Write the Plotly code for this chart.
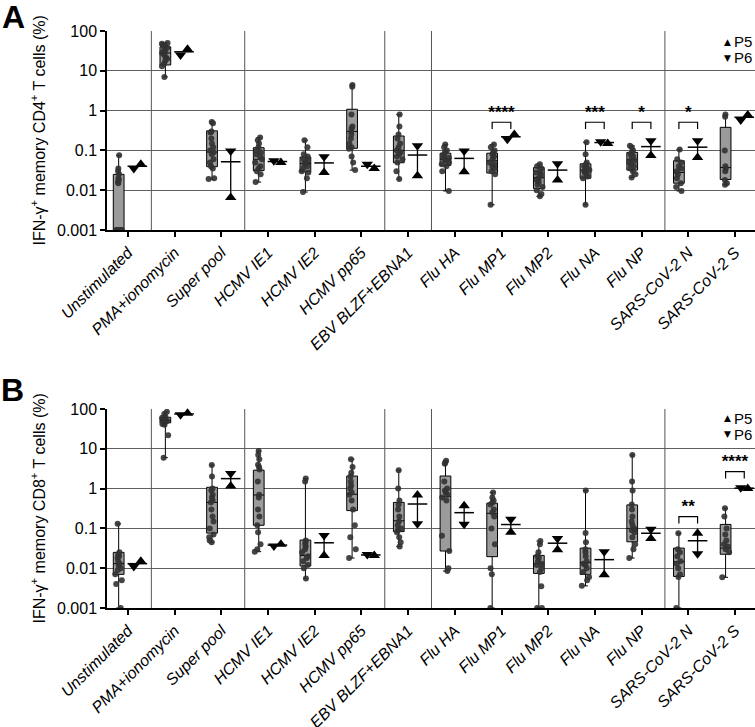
import math
import plotly.graph_objects as go

categories = ["Unstimulated", "PMA+ionomycin", "Super pool", "HCMV IE1", "HCMV IE2",
              "HCMV pp65", "EBV BLZF+EBNA1", "Flu HA", "Flu MP1", "Flu MP2", "Flu NA",
              "Flu NP", "SARS-CoV-2 N", "SARS-CoV-2 S"]

# ---------------- Panel A : CD4 ----------------
cd4_q1 = [0.001, 14, 0.039, 0.031, 0.029, 0.113, 0.049, 0.042, 0.027, 0.011, 0.02, 0.032, 0.015, 0.0186]
cd4_median = [0.001, 28, 0.091, 0.06, 0.047, 0.3, 0.1, 0.06, 0.055, 0.021, 0.032, 0.058, 0.028, 0.037]
cd4_q3 = [0.025, 40, 0.31, 0.117, 0.068, 1.08, 0.23, 0.085, 0.085, 0.037, 0.046, 0.089, 0.055, 0.38]
cd4_points = [
    [0.075, 0.035, 0.03, 0.025, 0.02, 0.018, 0.016, 0.015, 0.001, 0.001, 0.001, 0.001, 0.001, 0.001, 0.001, 0.001],
    [50, 48, 45, 42, 38, 35, 30, 28, 25, 22, 20, 18, 15, 13, 7],
    [0.52, 0.48, 0.3, 0.28, 0.2, 0.15, 0.12, 0.1, 0.09, 0.08, 0.06, 0.05, 0.04, 0.035, 0.02, 0.019],
    [0.21, 0.18, 0.15, 0.12, 0.1, 0.09, 0.08, 0.07, 0.06, 0.05, 0.04, 0.035, 0.03, 0.025, 0.016],
    [0.18, 0.12, 0.08, 0.07, 0.06, 0.055, 0.05, 0.045, 0.04, 0.035, 0.03, 0.028, 0.02, 0.009],
    [4.4, 4.0, 0.8, 0.4, 0.36, 0.3, 0.25, 0.2, 0.15, 0.12, 0.11, 0.07, 0.05, 0.032],
    [0.8, 0.4, 0.25, 0.2, 0.15, 0.12, 0.1, 0.09, 0.08, 0.07, 0.06, 0.05, 0.03, 0.019],
    [0.14, 0.12, 0.1, 0.09, 0.08, 0.07, 0.065, 0.06, 0.055, 0.05, 0.045, 0.04, 0.03, 0.0096],
    [0.14, 0.12, 0.1, 0.09, 0.08, 0.07, 0.06, 0.05, 0.045, 0.04, 0.035, 0.03, 0.025, 0.0043],
    [0.045, 0.04, 0.035, 0.03, 0.028, 0.025, 0.022, 0.02, 0.018, 0.016, 0.014, 0.012, 0.01, 0.008, 0.007],
    [0.16, 0.08, 0.05, 0.045, 0.04, 0.038, 0.035, 0.032, 0.03, 0.028, 0.025, 0.022, 0.02, 0.0043],
    [0.13, 0.12, 0.1, 0.09, 0.08, 0.07, 0.06, 0.055, 0.05, 0.045, 0.04, 0.035, 0.03, 0.025, 0.021],
    [0.105, 0.06, 0.05, 0.04, 0.035, 0.03, 0.025, 0.02, 0.015, 0.012, 0.0096],
    [0.8, 0.7, 0.1, 0.04, 0.035, 0.03, 0.018, 0.015, 0.0138],
]
cd4_p5 = [0.045, 35, 0.0066, 0.05, 0.028, 0.035, 0.023, 0.029, 0.25, 0.018, 0.15, 0.074, 0.066, 0.78]
cd4_p6 = [0.035, 25, 0.097, 0.055, 0.069, 0.045, 0.13, 0.097, 0.19, 0.046, 0.165, 0.175, 0.175, 0.58]
cd4_sig_idx = [8, 10, 11, 12]
cd4_sig_text = ["****", "***", "*", "*"]
cd4_sig_y = [0.51, 0.51, 0.51, 0.51]

# ---------------- Panel B : CD8 ----------------
cd8_q1 = [0.007, 45, 0.076, 0.12, 0.0114, 0.28, 0.083, 0.027, 0.0195, 0.0074, 0.007, 0.046, 0.0062, 0.0224]
cd8_median = [0.013, 52, 0.45, 0.69, 0.021, 0.72, 0.155, 0.63, 0.24, 0.013, 0.0138, 0.1, 0.0146, 0.032]
cd8_q3 = [0.025, 62, 1.08, 2.9, 0.051, 2.07, 0.45, 2.07, 0.43, 0.021, 0.032, 0.39, 0.032, 0.126]
cd8_points = [
    [0.13, 0.025, 0.022, 0.02, 0.018, 0.015, 0.013, 0.012, 0.01, 0.009, 0.007, 0.005, 0.004, 0.001],
    [85, 75, 65, 60, 55, 52, 50, 48, 45, 42, 40, 22, 6],
    [3.9, 2.0, 1.0, 0.9, 0.7, 0.6, 0.5, 0.45, 0.3, 0.2, 0.15, 0.1, 0.07, 0.06, 0.05, 0.045],
    [8.8, 7, 5.5, 4, 3.5, 3, 1.5, 0.7, 0.6, 0.3, 0.2, 0.12, 0.08, 0.04, 0.03, 0.026],
    [1.8, 1.5, 0.05, 0.045, 0.04, 0.035, 0.03, 0.025, 0.02, 0.018, 0.015, 0.012, 0.01, 0.0055],
    [5.5, 3.5, 2.5, 2, 1.5, 1.2, 1, 0.8, 0.7, 0.5, 0.3, 0.12, 0.06, 0.03, 0.018],
    [2.9, 1.0, 0.5, 0.4, 0.3, 0.2, 0.15, 0.12, 0.1, 0.09, 0.08, 0.06, 0.045, 0.035],
    [5.0, 4.5, 4.2, 1.5, 1.0, 0.9, 0.8, 0.7, 0.6, 0.5, 0.065, 0.027, 0.01, 0.0085],
    [0.8, 0.6, 0.5, 0.45, 0.4, 0.3, 0.25, 0.2, 0.1, 0.04, 0.01, 0.007, 0.001],
    [0.048, 0.04, 0.025, 0.02, 0.018, 0.015, 0.013, 0.012, 0.01, 0.008, 0.0035, 0.001, 0.001],
    [0.9, 0.077, 0.045, 0.03, 0.025, 0.02, 0.015, 0.013, 0.012, 0.01, 0.008, 0.006, 0.005, 0.0036],
    [7, 1.5, 0.9, 0.4, 0.3, 0.2, 0.15, 0.12, 0.1, 0.09, 0.08, 0.06, 0.04, 0.03, 0.018],
    [0.075, 0.03, 0.025, 0.02, 0.015, 0.013, 0.01, 0.007, 0.006, 0.001],
    [0.32, 0.2, 0.1, 0.07, 0.05, 0.04, 0.035, 0.03, 0.025, 0.0059],
]
cd8_p5 = [0.015, 78, 1.16, 0.04, 0.021, 0.021, 0.69, 0.37, 0.08, 0.029, 0.0068, 0.056, 0.075, 1.0]
cd8_p6 = [0.011, 72, 2.4, 0.036, 0.066, 0.022, 0.13, 0.127, 0.17, 0.056, 0.026, 0.095, 0.023, 1.05]
cd8_sig_idx = [12, 13]
cd8_sig_text = ["**", "****"]
cd8_sig_y = [0.197, 2.66]

y_tickvals = [0.001, 0.01, 0.1, 1, 10, 100]
y_ticktext = ["0.001", "0.01", "0.1", "1", "10", "100"]
separators = [0.5, 2.5, 5.5, 6.5, 11.5]

W, H = 755, 727
FONT = "Liberation Sans, Arial, sans-serif"
fig = go.Figure()


def add_panel(xa, ya, q1, med, q3, pts, p5, p6, sig_idx, sig_txt, sig_y):
    n = len(categories)
    bx = [i - 0.2 for i in range(n)]
    lo = [min(p) for p in pts]
    hi = [max(p) for p in pts]
    fig.add_trace(go.Box(x=bx, q1=q1, median=med, q3=q3, lowerfence=lo, upperfence=hi,
                         xaxis=xa, yaxis=ya, width=0.23, fillcolor="#9b9b9b",
                         line=dict(color="black", width=1), whiskerwidth=0.45,
                         boxpoints=False, showlegend=False, hoverinfo="skip"))
    px_, py_ = [], []
    for i, p in enumerate(pts):
        px_ += [i - 0.2] * len(p)
        py_ += p
    fig.add_trace(go.Box(x=px_, y=py_, xaxis=xa, yaxis=ya, width=0.23, boxpoints="all",
                         jitter=0.75, pointpos=0, fillcolor="rgba(0,0,0,0)",
                         line=dict(color="rgba(0,0,0,0)", width=0),
                         marker=dict(color="rgba(50,50,50,0.9)", size=6),
                         showlegend=False, hoverinfo="skip"))
    # P5 / P6 : mean with range
    x5, x6, lx, ly, mx, my = [], [], [], [], [], []
    for i in range(n):
        c = i + 0.2
        close = abs(math.log10(p5[i]) - math.log10(p6[i])) < 0.2
        d = 0.075 if close else 0.0
        x5.append(c + d)
        x6.append(c - d)
        if not close:
            lx += [c, c, None]
            ly += [p5[i], p6[i], None]
        mx.append(c)
        my.append((p5[i] + p6[i]) / 2)
    fig.add_trace(go.Scatter(x=lx, y=ly, mode="lines", xaxis=xa, yaxis=ya,
                             line=dict(color="black", width=1.3), showlegend=False, hoverinfo="skip"))
    fig.add_trace(go.Scatter(x=mx, y=my, mode="markers", xaxis=xa, yaxis=ya,
                             marker=dict(symbol="line-ew", size=14, line=dict(color="black", width=1.5)),
                             showlegend=False, hoverinfo="skip"))
    fig.add_trace(go.Scatter(x=x6, y=p6, mode="markers", xaxis=xa, yaxis=ya, cliponaxis=False,
                             marker=dict(symbol="triangle-down", size=10, color="black"),
                             showlegend=False, hoverinfo="skip"))
    fig.add_trace(go.Scatter(x=x5, y=p5, mode="markers", xaxis=xa, yaxis=ya, cliponaxis=False,
                             marker=dict(symbol="triangle-up", size=10, color="black"),
                             showlegend=False, hoverinfo="skip"))
    # significance brackets
    bxs, bys = [], []
    for k, i in enumerate(sig_idx):
        top = sig_y[k]
        leg = top / 10 ** 0.17
        bxs += [i - 0.2, i - 0.2, i + 0.2, i + 0.2, None]
        bys += [leg, top, top, leg, None]
    fig.add_trace(go.Scatter(x=bxs, y=bys, mode="lines", xaxis=xa, yaxis=ya,
                             line=dict(color="black", width=1.2), showlegend=False, hoverinfo="skip"))
    fig.add_trace(go.Scatter(x=list(sig_idx), y=list(sig_y), mode="text", text=sig_txt,
                             textposition="top center", xaxis=xa, yaxis=ya, cliponaxis=False,
                             textfont=dict(size=17, color="black", family=FONT, weight="bold"),
                             showlegend=False, hoverinfo="skip"))


add_panel("x", "y", cd4_q1, cd4_median, cd4_q3, cd4_points, cd4_p5, cd4_p6,
          cd4_sig_idx, cd4_sig_text, cd4_sig_y)
add_panel("x2", "y2", cd8_q1, cd8_median, cd8_q3, cd8_points, cd8_p5, cd8_p6,
          cd8_sig_idx, cd8_sig_text, cd8_sig_y)

x_dom = [107 / W, 1.0]
domA = [1 - 230 / H, 1 - 31 / H]
domB = [1 - 608 / H, 1 - 409 / H]

xcommon = dict(range=[-0.45, 13.43], tickmode="array", tickvals=list(range(len(categories))),
               ticktext=categories, tickangle=-45, ticks="outside", ticklen=5, tickwidth=1.5,
               tickcolor="black", showline=True, linecolor="black", linewidth=2,
               showgrid=False, zeroline=False, domain=x_dom, automargin=False,
               tickfont=dict(family=FONT, size=16, color="black", style="italic"))
ycommon = dict(type="log", range=[-3, 2], tickmode="array", tickvals=y_tickvals, ticktext=y_ticktext,
               ticks="outside", ticklen=5, tickwidth=1.5, tickcolor="black", showline=True,
               linecolor="black", linewidth=1.5, showgrid=True, gridcolor="#5f5f5f", gridwidth=1,
               zeroline=False, automargin=False,
               tickfont=dict(family=FONT, size=16, color="black"))

fig.update_layout(
    width=W, height=H, margin=dict(l=0, r=0, t=0, b=0),
    paper_bgcolor="white", plot_bgcolor="white", boxmode="overlay",
    font=dict(family=FONT, color="black"),
    xaxis=dict(**xcommon, anchor="y"),
    yaxis=dict(**ycommon, domain=domA, anchor="x"),
    xaxis2=dict(**xcommon, anchor="y2"),
    yaxis2=dict(**ycommon, domain=domB, anchor="x2"),
)

shapes = []
for xs in separators:
    for xr, yr in (("x", "y domain"), ("x2", "y2 domain")):
        shapes.append(dict(type="line", xref=xr, yref=yr, x0=xs, x1=xs, y0=0, y1=1,
                           line=dict(color="#555555", width=1), layer="below"))
fig.update_layout(shapes=shapes)


def px(xp, yp):
    return xp / W, 1 - yp / H


ann = []
for letter, (cx, cy) in (("A", (13, 17)), ("B", (12, 390))):
    ax_, ay_ = px(cx, cy)
    ann.append(dict(text="<b>" + letter + "</b>", x=ax_, y=ay_, xref="paper", yref="paper",
                    xanchor="center", yanchor="middle", showarrow=False, borderpad=0,
                    font=dict(size=32, family=FONT)))
for txt, dom in (("IFN-γ<sup>+</sup> memory CD4<sup>+</sup> T cells (%)", domA),
                 ("IFN-γ<sup>+</sup> memory CD8<sup>+</sup> T cells (%)", domB)):
    ann.append(dict(text=txt, x=38 / W, y=(dom[0] + dom[1]) / 2, xref="paper", yref="paper",
                    xanchor="center", yanchor="middle", textangle=-90, showarrow=False,
                    font=dict(size=16, family=FONT)))
for top in (42, 418):
    for sym, lab, dy in (("▲", "P5", 0), ("▼", "P6", 16)):
        sx, sy = px(727, top + dy)
        ann.append(dict(text=sym, x=sx, y=sy, xref="paper", yref="paper", xanchor="center",
                        yanchor="middle", showarrow=False, borderpad=0,
                        font=dict(size=9, family="DejaVu Sans")))
        tx, ty = px(733, top + dy)
        ann.append(dict(text=lab, x=tx, y=ty, xref="paper", yref="paper", xanchor="left",
                        yanchor="middle", showarrow=False, borderpad=0,
                        font=dict(size=15, family=FONT)))
fig.update_layout(annotations=ann)

fig.write_html("out.html", config={"displayModeBar": False},
               post_script="document.body.style.margin='0';document.body.style.overflow='hidden';")
